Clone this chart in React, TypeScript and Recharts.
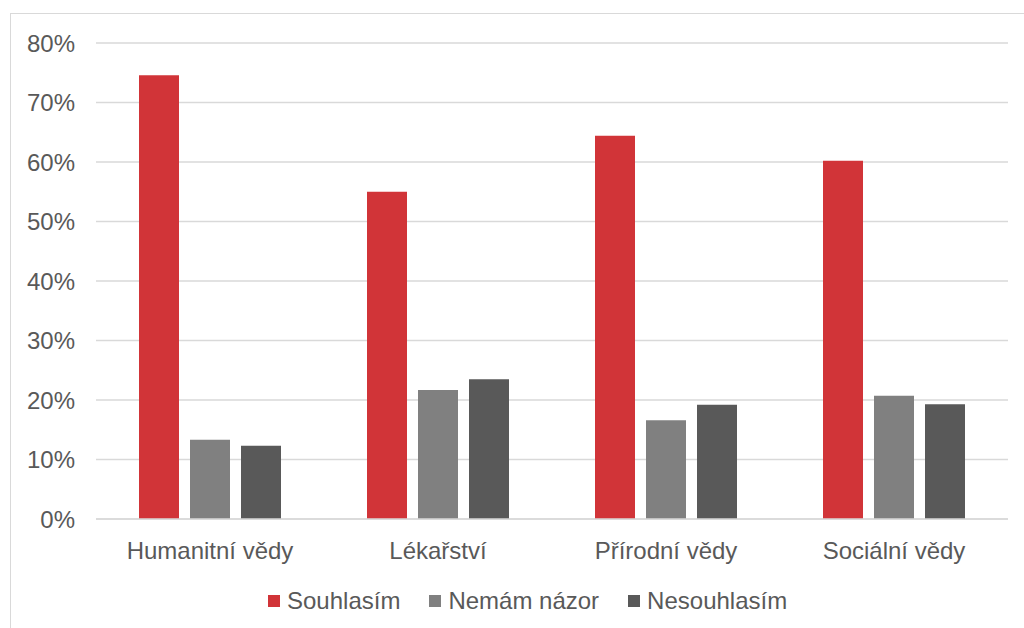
import { Bar, BarChart, CartesianGrid, XAxis, YAxis } from "recharts";

const CATEGORIES = ["Humanitní vědy", "Lékařství", "Přírodní vědy", "Sociální vědy"];
const SOUHLASIM = [74.6, 55.0, 64.4, 60.2];
const NEMAM_NAZOR = [13.3, 21.7, 16.6, 20.7];
const NESOUHLASIM = [12.3, 23.5, 19.2, 19.3];
const Y_TICKS = [0, 10, 20, 30, 40, 50, 60, 70, 80];

const SERIES = [
  { key: "souhlasim", label: "Souhlasím", color: "#d13438", values: SOUHLASIM },
  { key: "nemam", label: "Nemám názor", color: "#808080", values: NEMAM_NAZOR },
  { key: "nesouhlasim", label: "Nesouhlasím", color: "#595959", values: NESOUHLASIM },
];

const data = CATEGORIES.map((name, i) => {
  const row: Record<string, string | number> = { name };
  SERIES.forEach((s) => (row[s.key] = s.values[i]));
  return row;
});

const FONT = '"Liberation Sans", Arial, sans-serif';
const TEXT = "#595959";
const GRID = "#d9d9d9";

export default function App() {
  return (
    <div
      style={{
        position: "absolute",
        left: 0,
        top: 0,
        width: 1024,
        height: 628,
        overflow: "hidden",
        background: "#fff",
        fontFamily: FONT,
      }}
    >
      {/* рамка области диаграммы, обрезана справа и снизу */}
      <div
        style={{
          position: "absolute",
          left: 10,
          top: 13,
          width: 1100,
          height: 700,
          border: `1.5px solid ${GRID}`,
          boxSizing: "border-box",
        }}
      />
      <div style={{ position: "absolute", left: 0, top: 0 }}>
        <BarChart
          width={1024}
          height={575}
          data={data}
          margin={{ top: 43, right: 16, bottom: 0, left: 0 }}
          barSize={40}
          barGap={11}
        >
          <CartesianGrid vertical={false} stroke={GRID} strokeWidth={1.5} />
          <XAxis
            dataKey="name"
            height={56}
            tickLine={false}
            axisLine={{ stroke: GRID, strokeWidth: 1.5 }}
            tickSize={0}
            tickMargin={23}
            tick={{ fontSize: 24, fill: TEXT, fontFamily: FONT }}
            interval={0}
          />
          <YAxis
            width={96}
            domain={[0, 80]}
            ticks={Y_TICKS}
            tickFormatter={(v) => `${v}%`}
            axisLine={false}
            tickLine={false}
            tickSize={0}
            tickMargin={21}
            tick={{ fontSize: 24, fill: TEXT, fontFamily: FONT }}
            interval={0}
          />
          {SERIES.map((s) => (
            <Bar key={s.key} dataKey={s.key} fill={s.color} isAnimationActive={false} />
          ))}
        </BarChart>
      </div>
      <div
        style={{
          position: "absolute",
          left: 268,
          top: 587,
          display: "flex",
          alignItems: "center",
          fontSize: 24,
          color: TEXT,
          lineHeight: "28px",
        }}
      >
        {SERIES.map((s, i) => (
          <div
            key={s.key}
            style={{ display: "flex", alignItems: "center", marginLeft: i === 0 ? 0 : 29 }}
          >
            <span
              style={{ display: "inline-block", width: 12, height: 12, background: s.color, marginRight: 7 }}
            />
            <span>{s.label}</span>
          </div>
        ))}
      </div>
    </div>
  );
}
